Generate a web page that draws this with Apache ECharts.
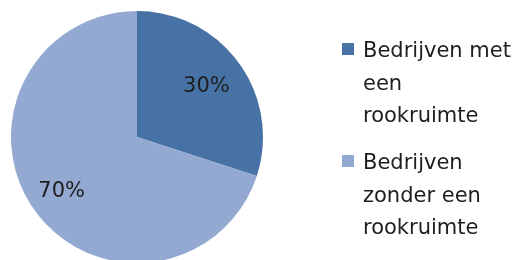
<!DOCTYPE html>
<html>
<head>
<meta charset="utf-8">
<script src="https://cdn.jsdelivr.net/npm/echarts@6/dist/echarts.min.js"></script>
<style>
  html, body { margin: 0; padding: 0; background: #fff; }
  #chart { width: 516px; height: 260px; }
</style>
</head>
<body>
<div id="chart"></div>
<script>
    var categories = ['Bedrijven met\neen\nrookruimte', 'Bedrijven\nzonder een\nrookruimte'];
    var values = [30, 70];
    var colors = ['#4672A5', '#94A9D1'];

    var pieCenter = [137, 137];
    var lineH = 32.5;
    // legend icon: a square near the top of a tall, otherwise empty box
    var iconPath = 'path://M0,0M0,7.25h12v12h-12zM16,97.5';
    // how far each inside label gets pushed outward
    var labelPush = [0.3, 0.41];

    var chart = echarts.init(document.getElementById('chart'));
    var option = {
        animation: false,
        color: colors,
        legend: {
            orient: 'vertical',
            left: 342,
            top: 35.75,
            padding: 0,
            itemGap: 14.5,
            itemWidth: 16,
            itemHeight: 3 * lineH,
            icon: iconPath,
            itemStyle: { borderWidth: 0 },
            selectedMode: false,
            textStyle: {
                fontFamily: 'DejaVu Sans',
                fontSize: 21,
                lineHeight: lineH,
                color: '#1e1e1e'
            },
            data: categories
        },
        series: [{
            type: 'pie',
            center: pieCenter,
            radius: 126,
            startAngle: 90,
            clockwise: true,
            itemStyle: { borderWidth: 0 },
            emphasis: { disabled: true },
            label: {
                show: true,
                position: 'inside',
                formatter: '{d}%',
                fontFamily: 'DejaVu Sans',
                fontSize: 21,
                color: '#1e1e1e'
            },
            labelLine: { show: false },
            labelLayout: function (params) {
                var lx = params.labelRect.x + params.labelRect.width / 2;
                var ly = params.labelRect.y + params.labelRect.height / 2;
                var k = labelPush[params.dataIndex];
                return {
                    dx: (lx - pieCenter[0]) * k,
                    dy: (ly - pieCenter[1]) * k
                };
            },
            data: categories.map(function (c, i) {
                return { name: c, value: values[i] };
            })
        }]
    };
    chart.setOption(option);
</script>
</body>
</html>
